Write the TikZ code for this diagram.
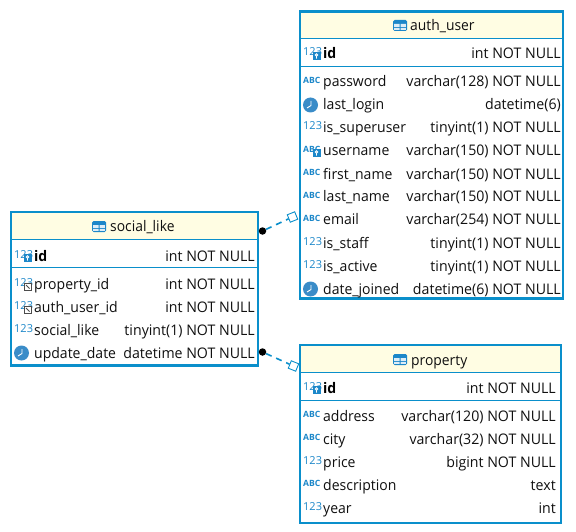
\documentclass[tikz,border=0pt]{standalone}
\usepackage{fontspec}
\setmainfont{Open Sans}
\newfontfamily\namefont[FakeStretch=0.96]{Open Sans}
\newfontfamily\titlefont[FakeStretch=0.95]{Open Sans}
\newfontfamily\typefont[FakeStretch=0.97]{Open Sans}
\definecolor{dbblue}{HTML}{0A8FCB}
\definecolor{hdr}{HTML}{FFFDE3}
\definecolor{icoblue}{HTML}{1C87C9}
\definecolor{clockblue}{HTML}{3A8CC8}
\definecolor{txt}{HTML}{101010}
\tikzset{
  x=1pt,y=-1pt,
  tbl/.style={draw=dbblue,line width=2.2pt,fill=white,inner sep=0pt,outer sep=0pt,anchor=north west},
  sepline/.style={draw=dbblue,line width=1pt},
  lbl/.style={inner sep=0pt,anchor=base west,text=txt,font=\namefont\fontsize{14.6}{16}\selectfont},
  ttl/.style={inner sep=0pt,anchor=base west,text=txt,font=\titlefont\fontsize{14.6}{16}\selectfont},
  idlbl/.style={inner sep=0pt,anchor=base west,text=black,font=\namefont\bfseries\fontsize{14.6}{16}\selectfont},
  typ/.style={inner sep=0pt,anchor=base east,text=txt,font=\typefont\fontsize{14.6}{16}\selectfont},
  ico/.style={inner sep=0pt,anchor=base west,text=icoblue},
  startdot/.style={circle,fill=black,inner sep=0pt,minimum size=7.5pt},
  enddia/.style={rectangle,draw=dbblue,fill=white,line width=.9pt,inner sep=0pt,minimum size=8pt},
  conn/.style={draw=dbblue,line width=1.6pt,dash pattern=on 6pt off 5pt},
}
% #1 left x, #2 right x, #3 baseline y, #4 icon, #5 name, #6 type
\newcommand{\DbRow}[6]{%
  \node[lbl] at (#1+23,#3) {#5};
  \node[typ] at (#2,#3) {#6};
  \csname Ic#4\endcsname{#1}{#3}}
\newcommand{\IcNum}[2]{\node[ico,font=\fontsize{11}{12}\selectfont] at (#1+3,#2-3) {123};}
\newcommand{\IcAbc}[2]{\node[ico,font=\bfseries\fontsize{8.6}{10}\selectfont] at (#1+3,#2-3.5) {ABC};}
\newcommand{\IcClk}[2]{%
  \fill[clockblue] (#1+10.5,#2-5) circle (7.5);
  \draw[white,line width=.9pt] (#1+11,#2-9) -- (#1+11,#2-4.5) -- (#1+7,#2-2);}
\newcommand{\Badge}[2]{%
  \fill[icoblue] (#1+12.5,#2-7) rectangle (#1+20.5,#2+1);
  \draw[white,line width=.8pt] (#1+16.5,#2-4) circle (1.3) (#1+16.5,#2-2.7) -- (#1+16.5,#2-.3);}
\newcommand{\IcKey}[2]{%
  \node[ico,font=\fontsize{11}{12}\selectfont] at (#1+3,#2-3) {123};
  \Badge{#1}{#2}}
\newcommand{\IcFk}[2]{%
  \node[ico,font=\fontsize{11}{12}\selectfont] at (#1+3,#2-3) {123};
  \fill[white] (#1+12.5,#2-6.5) rectangle (#1+20.5,#2+1.5);
  \draw[black!70,line width=1pt] (#1+13,#2-6) rectangle (#1+20,#2+1);
  \draw[black!70,line width=1pt] (#1+15,#2-4) -- (#1+18.5,#2-.5);}
\newcommand{\IcUni}[2]{%
  \node[ico,font=\bfseries\fontsize{8.6}{10}\selectfont] at (#1+3,#2-3.5) {ABC};
  \Badge{#1}{#2}}
\newcommand{\TblIcon}[2]{%
  \fill[icoblue,rounded corners=1.5pt] (#1,#2) rectangle (#1+14,#2+11);
  \fill[white!85!icoblue] (#1+1.2,#2+4) rectangle (#1+6.5,#2+6.8) (#1+7.5,#2+4) rectangle (#1+12.8,#2+6.8)
    (#1+1.2,#2+7.8) rectangle (#1+6.5,#2+9.8) (#1+7.5,#2+7.8) rectangle (#1+12.8,#2+9.8);}
\begin{document}
\begin{tikzpicture}
\useasboundingbox (0,0) rectangle (576,532);
\fill[white] (0,0) rectangle (576,532);
% ---- auth_user
\node[tbl,minimum width=263pt,minimum height=287pt] (authuser) at (300,11.5) {};
\fill[hdr] (301.1,12.6) rectangle (561.9,38);
\draw[sepline] (301,38.5) -- (563,38.5);
\draw[sepline] (301,66.5) -- (563,66.5);
\TblIcon{393}{20}
\node[ttl] (authtitle) at (410,31) {auth\_user};
\node[idlbl] at (323,59) {id};
\node[typ] at (561,59) {int NOT NULL};
\IcKey{300}{59}
\DbRow{300}{561}{87}{Abc}{password}{varchar(128) NOT NULL}
\DbRow{300}{561}{110}{Clk}{last\_login}{datetime(6)}
\DbRow{300}{561}{133}{Num}{is\_superuser}{tinyint(1) NOT NULL}
\DbRow{300}{561}{156}{Uni}{username}{varchar(150) NOT NULL}
\DbRow{300}{561}{179}{Abc}{first\_name}{varchar(150) NOT NULL}
\DbRow{300}{561}{202}{Abc}{last\_name}{varchar(150) NOT NULL}
\DbRow{300}{561}{225}{Abc}{email}{varchar(254) NOT NULL}
\DbRow{300}{561}{248}{Num}{is\_staff}{tinyint(1) NOT NULL}
\DbRow{300}{561}{271}{Num}{is\_active}{tinyint(1) NOT NULL}
\DbRow{300}{561}{294}{Clk}{date\_joined}{datetime(6) NOT NULL}
% ---- social_like
\node[tbl,minimum width=247pt,minimum height=153.5pt] (sociallike) at (11,212) {};
\fill[hdr] (12.1,213.1) rectangle (256.9,239);
\draw[sepline] (12,239.5) -- (258,239.5);
\draw[sepline] (12,267.5) -- (258,267.5);
\TblIcon{92}{221}
\node[ttl] at (110,232) {social\_like};
\node[idlbl] at (34,261) {id};
\node[typ] at (255,261) {int NOT NULL};
\IcKey{11}{261}
\DbRow{11}{255}{289}{Fk}{property\_id}{int NOT NULL}
\DbRow{11}{255}{312}{Fk}{auth\_user\_id}{int NOT NULL}
\DbRow{11}{255}{335}{Num}{social\_like}{tinyint(1) NOT NULL}
\DbRow{11}{255}{358}{Clk}{update\_date}{datetime NOT NULL}
% ---- property
\node[tbl,minimum width=261pt,minimum height=178pt] (property) at (300,345) {};
\fill[hdr] (301.1,346.1) rectangle (559.9,372);
\draw[sepline] (301,372.5) -- (561,372.5);
\draw[sepline] (301,400.5) -- (561,400.5);
\TblIcon{393}{354}
\node[ttl] at (411,365) {property};
\node[idlbl] at (323,393) {id};
\node[typ] at (556,393) {int NOT NULL};
\IcKey{300}{393}
\DbRow{300}{556}{421}{Abc}{address}{varchar(120) NOT NULL}
\DbRow{300}{556}{444}{Abc}{city}{varchar(32) NOT NULL}
\DbRow{300}{556}{467}{Num}{price}{bigint NOT NULL}
\DbRow{300}{556}{490}{Abc}{description}{text}
\DbRow{300}{556}{513}{Num}{year}{int}
% ---- connectors
\node[startdot] (d1) at (262.5,231) {};
\node[enddia,rotate=22] (e1) at (292.5,217) {};
\node[startdot] (d2) at (262.5,352) {};
\node[enddia,rotate=-22] (e2) at (293.5,366) {};
\draw[conn] (d1) -- (e1);
\draw[conn] (d2) -- (e2);
\end{tikzpicture}
\end{document}
